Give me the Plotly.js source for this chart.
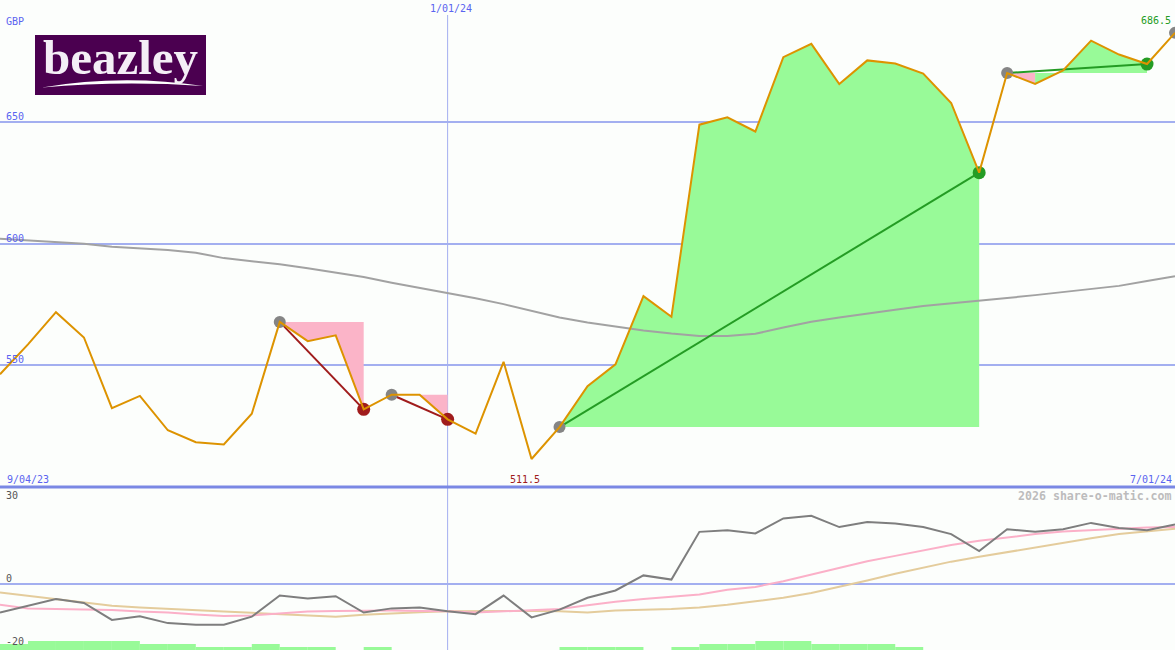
<!DOCTYPE html>
<html>
<head>
<meta charset="utf-8">
<script src="https://cdn.plot.ly/plotly-3.0.1.min.js"></script>
<style>html,body{margin:0;padding:0;background:#fcfefc;}#chart{width:1175px;height:650px;}</style>
</head>
<body>
<div id="chart"></div>
<script>
// ---- data ----
const dates = ['2023-09-11','2023-09-18','2023-09-25','2023-10-02','2023-10-09','2023-10-16','2023-10-23','2023-10-30','2023-11-06','2023-11-13','2023-11-20','2023-11-27','2023-12-04','2023-12-11','2023-12-18','2023-12-25','2024-01-01','2024-01-08','2024-01-15','2024-01-22','2024-01-29','2024-02-05','2024-02-12','2024-02-19','2024-02-26','2024-03-04','2024-03-11','2024-03-18','2024-03-25','2024-04-01','2024-04-08','2024-04-15','2024-04-22','2024-04-29','2024-05-06','2024-05-13','2024-05-20','2024-05-27','2024-06-03','2024-06-10','2024-06-17','2024-06-24','2024-07-01'];
const price = [546.3,558.6,571.8,561.4,532.4,537.4,523.3,518.4,517.5,530.1,567.8,559.9,562.3,531.9,537.9,537.9,527.8,521.9,551.4,511.5,524.6,541.4,550.4,578.4,569.9,648.8,651.8,646.0,676.5,682.0,665.5,675.2,673.9,669.8,657.7,629.1,670.0,665.5,671.1,683.3,677.6,673.7,686.5];
const movingAvg = [601.9,601.2,600.4,599.9,598.7,598.0,597.3,596.2,594.0,592.7,591.5,589.8,588.0,586.2,583.9,581.8,579.8,577.5,575.1,572.2,569.6,567.6,565.8,564.3,563.0,562.0,562.0,562.9,565.5,567.9,569.6,571.3,572.8,574.3,575.3,576.3,577.6,578.8,580.0,581.2,582.6,584.6,586.6];
const momentum = [-8.9,-6.9,-4.7,-5.9,-11.2,-10.1,-12.2,-12.7,-12.7,-10.2,-3.6,-4.5,-3.8,-8.9,-7.6,-7.3,-8.5,-9.4,-3.6,-10.4,-8.0,-4.3,-2.0,2.7,1.4,16.3,16.8,15.8,20.5,21.3,17.8,19.4,18.9,17.8,15.6,10.3,17.1,16.3,17.1,19.1,17.5,16.8,18.6];
const momentumFast = [-6.5,-7.6,-7.8,-7.9,-8.1,-8.6,-8.9,-9.5,-10.0,-9.8,-9.3,-8.6,-8.4,-8.3,-8.3,-8.4,-8.5,-8.9,-8.6,-8.1,-7.8,-6.6,-5.5,-4.7,-4.0,-3.3,-1.8,-0.9,0.9,2.9,5.0,7.1,8.8,10.5,12.2,13.5,14.6,15.6,16.4,16.9,17.4,17.7,17.8];
const momentumSlow = [-2.6,-3.7,-4.7,-5.8,-6.8,-7.3,-7.8,-8.2,-8.6,-9.0,-9.4,-9.8,-10.2,-9.6,-9.1,-8.8,-8.5,-8.4,-8.3,-8.4,-8.5,-8.9,-8.3,-8.1,-7.8,-7.3,-6.5,-5.4,-4.3,-2.8,-0.9,1.1,3.2,5.1,7.0,8.5,10.0,11.5,13.0,14.3,15.6,16.4,17.3];
const strength = [2,3,3,3,3,2,2,1,1,2,1,1,0,1,0,0,0,0,0,0,1,1,1,0,1,2,2,3,3,2,2,2,1,0,0,0,0,0,0,0,0,0,0];
const signalStart = ['2023-11-20','2023-12-18','2024-01-29','2024-05-20','2024-07-01'];
const signalEnd   = ['2023-12-11','2024-01-01','2024-05-13','2024-06-24', null];
const yTicksMain = [550,600,650];
const currency = 'GBP';
const startLabel = '9/04/23', midLabel = '1/01/24', endLabel = '7/01/24';
const midDate = '2024-01-01';
const lowerTicks = ['30','0','-20'];

// ---- styles ----
const W = 1175, H = 650;
const GREEN_FILL = '#98fa98', PINK_FILL = '#fbb4c8';
const ORANGE = '#dd9300', DRED = '#a01c1c', DGREEN = '#249c24';
const BLUE_TXT = '#5a64f0', GRID = '#a3aff0', SEP = '#7a88e4';
const px = v => v / W, py = v => 1 - v / H;

const traces = [];
// filled regions per signal
signalStart.forEach((s, k) => {
  const e = signalEnd[k];
  if (!e) return;
  const a = dates.indexOf(s), b = dates.indexOf(e);
  const base = price[a];
  let i = a;
  while (i < b) {
    const up = price[i + 1] >= base;
    let j = i + 1;
    while (j < b && (price[j + 1] >= base) === up) j++;
    const xs = [dates[i], dates[j]], ys = [base, base];
    for (let t = j; t >= i; t--) { xs.push(dates[t]); ys.push(price[t]); }
    traces.push({x: xs, y: ys, mode: 'none', fill: 'toself', fillcolor: up ? GREEN_FILL : PINK_FILL,
      line: {width: 0}, hoverinfo: 'skip', showlegend: false});
    i = j;
  }
});
// moving average
traces.push({x: dates, y: movingAvg, mode: 'lines', line: {color: '#a2a2a2', width: 2}, showlegend: false});
// trend lines and markers
signalStart.forEach((s, k) => {
  const e = signalEnd[k];
  const a = dates.indexOf(s);
  if (e) {
    const b = dates.indexOf(e);
    const up = price[b] >= price[a];
    traces.push({x: [s, e], y: [price[a], price[b]], mode: 'lines', line: {color: up ? DGREEN : DRED, width: 2}, showlegend: false});
    traces.push({x: [e], y: [price[b]], mode: 'markers', marker: {color: up ? DGREEN : DRED, size: 13}, showlegend: false});
  }
  traces.push({x: [s], y: [price[a]], mode: 'markers', marker: {color: '#858585', size: 12}, showlegend: false});
});
// price line
traces.push({x: dates, y: price, mode: 'lines', line: {color: ORANGE, width: 2}, showlegend: false});
// lower panel
traces.push({x: dates, y: strength, type: 'bar', xaxis: 'x', yaxis: 'y3', offset: 0, width: 7 * 86400000,
  marker: {color: GREEN_FILL, line: {width: 0}}, showlegend: false});
traces.push({x: dates, y: momentumSlow, mode: 'lines', xaxis: 'x', yaxis: 'y2', line: {color: '#e4cc9c', width: 2}, showlegend: false});
traces.push({x: dates, y: momentumFast, mode: 'lines', xaxis: 'x', yaxis: 'y2', line: {color: '#fbb0c8', width: 2}, showlegend: false});
traces.push({x: dates, y: momentum, mode: 'lines', xaxis: 'x', yaxis: 'y2', line: {color: '#7e7e7e', width: 2}, showlegend: false});

const lo = Math.min(...price);
const last = price[price.length - 1];
const mono = 'DejaVu Sans Mono, monospace';
const ann = (text, x, y, xa, color, size, extra) => Object.assign({text, x: px(x), y: py(y), xref: 'paper', yref: 'paper',
  xanchor: xa, yanchor: 'middle', showarrow: false, font: {family: mono, size: size || 10, color}}, extra || {});

const annotations = [
  ann(currency, 4, 21.5, 'left', BLUE_TXT),
  ...yTicksMain.map((v, k) => ann(String(v), 4, [359.5, 238, 116.5][k], 'left', BLUE_TXT)),
  ann(midLabel, 451, 9, 'center', BLUE_TXT),
  ann(last.toFixed(1), 1173, 21, 'right', DGREEN),
  ann(startLabel, 5, 479, 'left', BLUE_TXT),
  ann(lo.toFixed(1), 525, 479, 'center', DRED),
  ann(endLabel, 1174, 479, 'right', BLUE_TXT),
  ann('2026 share-o-matic.com', 1174, 496, 'right', '#bcbcbc', 11.6, {font: {family: mono, size: 11.6, color: '#bcbcbc', weight: 'bold'}}),
  ann(lowerTicks[0], 4, 495.5, 'left', '#555555'),
  ann(lowerTicks[1], 4, 578.5, 'left', '#555555'),
  ann(lowerTicks[2], 4, 641.5, 'left', '#555555'),
  ann('beazley', 121, 58, 'center', '#ffffff', 49, {font: {family: 'Liberation Serif, DejaVu Serif, serif', size: 49, color: '#f4eef6', weight: 'bold'}})
];

const swoosh = `M ${px(42)},${py(87.5)} Q ${px(122)},${py(74)} ${px(203)},${py(86)} Q ${px(122)},${py(80.5)} ${px(42)},${py(87.5)} Z`;
const shapes = [
  {type: 'line', xref: 'x', yref: 'paper', x0: midDate, x1: midDate, y0: 0, y1: py(15), line: {color: GRID, width: 1}, layer: 'below'},
  {type: 'line', xref: 'paper', yref: 'paper', x0: 0, x1: 1, y0: py(487), y1: py(487), line: {color: SEP, width: 3}, layer: 'above'},
  {type: 'rect', xref: 'paper', yref: 'paper', x0: px(35), x1: px(206), y0: py(95), y1: py(35), fillcolor: '#4b0050', line: {width: 0}, layer: 'above'},
  {type: 'path', xref: 'paper', yref: 'paper', path: swoosh, fillcolor: '#ffffff', line: {width: 0}, layer: 'above'}
];

const layout = {
  width: W, height: H, margin: {l: 0, r: 0, t: 0, b: 0},
  paper_bgcolor: '#fcfefc', plot_bgcolor: '#fcfefc', hovermode: false, showlegend: false,
  xaxis: {type: 'date', range: [dates[0], dates[dates.length - 1]], domain: [0, 1], anchor: 'y',
    showgrid: false, zeroline: false, showticklabels: false, ticks: '', showline: false, fixedrange: true},
  yaxis: {domain: [1 - 487 / H, 1], range: [500, 700], tickvals: yTicksMain, showticklabels: false, ticks: '',
    showgrid: true, gridcolor: GRID, gridwidth: 2, zeroline: false, showline: false},
  yaxis2: {domain: [0, 1 - 488 / H], range: [-20.6, 30], anchor: 'x', tickvals: [0], showticklabels: false, ticks: '',
    showgrid: true, gridcolor: GRID, gridwidth: 2, zeroline: false, showline: false},
  yaxis3: {overlaying: 'y2', range: [0, 54], anchor: 'x', visible: false, showgrid: false, zeroline: false},
  annotations, shapes
};
Plotly.newPlot('chart', traces, layout, {staticPlot: true, displayModeBar: false});
</script>
</body>
</html>
